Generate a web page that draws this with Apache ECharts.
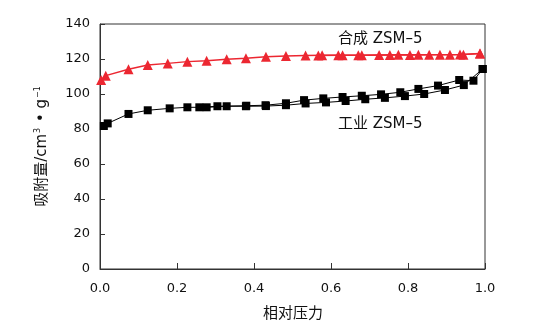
<!DOCTYPE html>
<html><head><meta charset="utf-8">
<script src="https://cdn.jsdelivr.net/npm/echarts@6/dist/echarts.min.js"></script>
<style>html,body{margin:0;padding:0;background:#fff}#c{width:546px;height:330px}</style>
</head><body><div id="c"></div>
<script>
const xTicks = [0, 0.2, 0.4, 0.6, 0.8, 1.0];
const yTicks = [0, 20, 40, 60, 80, 100, 120, 140];
const synthAdsP = [0.003, 0.015, 0.074, 0.124, 0.176, 0.227, 0.277, 0.329, 0.379, 0.431, 0.483, 0.534, 0.577, 0.630, 0.680, 0.725, 0.775, 0.827, 0.883, 0.935, 0.987];
const synthAdsV = [108.0, 110.5, 114.1, 116.6, 117.5, 118.5, 119.0, 119.8, 120.4, 121.3, 121.7, 122.0, 122.1, 122.2, 122.2, 122.3, 122.4, 122.4, 122.5, 122.6, 123.2];
const synthDesP = [0.987, 0.944, 0.909, 0.855, 0.805, 0.753, 0.671, 0.619, 0.567];
const synthDesV = [123.2, 122.5, 122.4, 122.4, 122.3, 122.3, 122.2, 122.1, 122.0];
const indAdsP = [0.010, 0.020, 0.074, 0.124, 0.181, 0.227, 0.277, 0.329, 0.379, 0.431, 0.483, 0.534, 0.587, 0.638, 0.689, 0.740, 0.792, 0.842, 0.896, 0.945, 0.994];
const indAdsV = [81.7, 83.2, 88.6, 90.7, 91.8, 92.4, 92.4, 93.0, 93.0, 93.1, 93.6, 94.6, 95.2, 96.0, 97.0, 97.8, 98.8, 100.0, 102.3, 105.1, 114.3];
const indDesP = [0.994, 0.970, 0.933, 0.878, 0.827, 0.780, 0.730, 0.680, 0.630, 0.580, 0.530, 0.483, 0.430, 0.380, 0.305, 0.258];
const indDesV = [114.3, 107.6, 108.0, 104.8, 102.9, 101.0, 99.8, 99.0, 98.3, 97.5, 96.5, 94.7, 93.6, 93.3, 93.0, 92.4];
const labelSynth = '合成 ZSM–5';
const labelInd = '工业 ZSM–5';
const xName = '相对压力';

const zip = (a, b) => a.map((v, i) => [v, b[i]]);
const RED = '#ec2731';
const font = '"DejaVu Sans", sans-serif';
const cjk = '"DejaVu Sans", "Noto Sans CJK SC", sans-serif';

const chart = echarts.init(document.getElementById('c'));
chart.setOption({
  animation: false,
  grid: { left: 100, top: 24, right: 61, bottom: 61, show: true, borderColor: '#333', borderWidth: 1 },
  xAxis: {
    type: 'value', min: 0, max: 1, interval: 0.2,
    axisLine: { lineStyle: { color: '#333', width: 1 } },
    axisTick: { inside: true, length: 6, lineStyle: { color: '#333' } },
    splitLine: { show: false },
    axisLabel: { color: '#111', fontSize: 13, fontFamily: font, margin: 13, formatter: v => v.toFixed(1) }
  },
  yAxis: {
    type: 'value', min: 0, max: 140, interval: 20,
    axisLine: { show: true, lineStyle: { color: '#333', width: 1 } },
    axisTick: { show: true, inside: true, length: 5, lineStyle: { color: '#333' } },
    splitLine: { show: false },
    axisLabel: { color: '#111', fontSize: 13, fontFamily: font, margin: 10 }
  },
  series: [
    { type: 'line', data: zip(indAdsP, indAdsV), symbol: 'rect', symbolSize: 8, itemStyle: { color: '#000' }, lineStyle: { color: '#000', width: 1 }, z: 3 },
    { type: 'line', data: zip(indDesP, indDesV), symbol: 'rect', symbolSize: 8, itemStyle: { color: '#000' }, lineStyle: { color: '#000', width: 1 }, z: 3 },
    { type: 'line', data: zip(synthAdsP, synthAdsV), symbol: 'triangle', symbolSize: 10, itemStyle: { color: RED }, lineStyle: { color: RED, width: 1.5 }, z: 4 },
    { type: 'line', data: zip(synthDesP, synthDesV), symbol: 'triangle', symbolSize: 10, itemStyle: { color: RED }, lineStyle: { color: RED, width: 1.5 }, z: 4 }
  ],
  graphic: [
    { type: 'text', left: 338, top: 32, style: { text: labelSynth, font: '15px ' + cjk, fill: '#111' } },
    { type: 'text', left: 338, top: 117, style: { text: labelInd, font: '15px ' + cjk, fill: '#111' } },
    { type: 'text', x: 293, y: 314, style: { text: xName, font: '15px ' + cjk, fill: '#111', align: 'center', verticalAlign: 'middle' } },
    { type: 'text', x: 42, y: 146, rotation: Math.PI / 2,
      style: { text: '吸附量/cm{s|3} • g{s|−1}', font: '15px ' + cjk, fill: '#111', align: 'center', verticalAlign: 'middle',
        rich: { s: { fontSize: 8, verticalAlign: 'top', padding: [0, 1, 8, 1], fontFamily: cjk } } } }
  ]
});
</script>
</body></html>
